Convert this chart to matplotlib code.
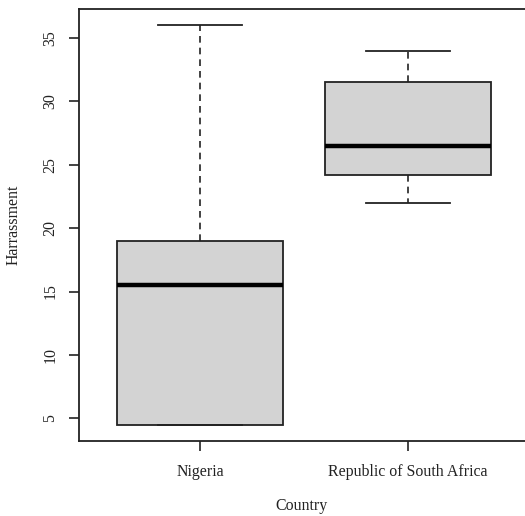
import matplotlib
matplotlib.use('Agg')
import matplotlib.pyplot as plt

# box statistics
countries = ['Nigeria', 'Republic of South Africa']
whisker_low = [4.5, 22.0]
q1 = [4.5, 24.2]
median = [15.5, 26.5]
q3 = [19.0, 31.5]
whisker_high = [36.0, 34.0]

plt.rcParams['font.family'] = ['Liberation Serif', 'DejaVu Serif']

stats = []
for i, name in enumerate(countries):
    stats.append({
        'label': name,
        'whislo': whisker_low[i],
        'q1': q1[i],
        'med': median[i],
        'q3': q3[i],
        'whishi': whisker_high[i],
        'fliers': [],
    })

fig = plt.figure(figsize=(5.25, 5.16), dpi=100)
ax = fig.add_axes([79 / 525, 1 - 440.5 / 516, (525 - 79) / 525, 431 / 516])

ax.bxp(stats, positions=[1, 2], widths=0.8, patch_artist=True,
       boxprops=dict(facecolor='#d3d3d3', edgecolor='#222222', linewidth=1.3),
       medianprops=dict(color='black', linewidth=3.2),
       whiskerprops=dict(color='#222222', linestyle=(0, (4, 3)), linewidth=1.2),
       capprops=dict(color='#222222', linewidth=1.3),
       capwidths=0.4)

ax.set_xlim(0.418, 0.418 + 446 / 208)
ax.set_ylim(3.24, 37.26)
ax.set_yticks([5, 10, 15, 20, 25, 30, 35])
ax.set_xticks([1, 2])
ax.set_xticklabels(countries)

for s in ['left', 'bottom', 'top']:
    ax.spines[s].set_linewidth(1.3)
    ax.spines[s].set_color('#222222')
ax.spines['right'].set_visible(False)

fs = 11.4
ax.tick_params(axis='y', length=7, width=1.2, pad=8, labelsize=fs,
               labelrotation=90, color='#222222', labelcolor='#222222')
ax.tick_params(axis='x', length=7, width=1.2, pad=10, labelsize=fs,
               color='#222222', labelcolor='#222222')
for lbl in ax.get_yticklabels():
    lbl.set_verticalalignment('center')

ax.set_ylabel('Harrassment', fontsize=fs, labelpad=15, color='#222222')
ax.set_xlabel('Country', fontsize=fs, labelpad=13, color='#222222')

fig.savefig('out.png', dpi=100)
